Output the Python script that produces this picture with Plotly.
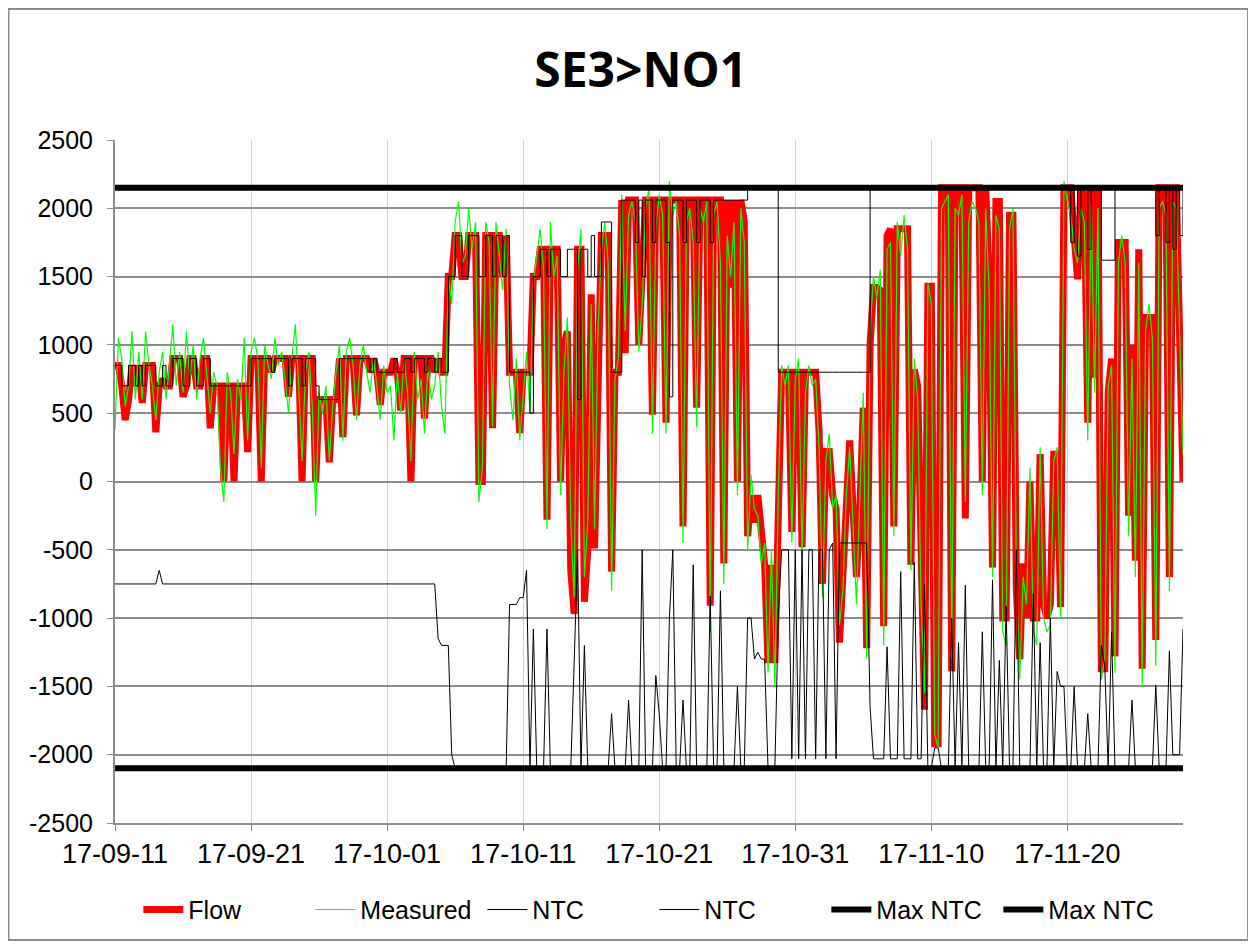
import pandas as pd
import plotly.graph_objects as go

# 6-hourly samples from 2017-09-11 00:00 (one line per day: 00, 06, 12, 18 h)
flow = [
    850, 850, 700, 450,  600, 850, 700, 850,  575, 850, 850, 850,  360, 700, 750, 700,
    700, 900, 900, 900,  620, 700, 900, 900,  700, 700, 900, 900,  390, 700, 700, 700,
    0, 700, 700, 0,  700, 700, 700, 215,  900, 900, 900, 0,  900, 900, 800, 900,
    900, 900, 900, 620,  900, 900, 900, 0,  900, 900, 900, 0,  600, 600, 600, 140,
    600, 600, 900, 325,  900, 900, 900, 485,  900, 900, 900, 800,  900, 800, 560, 800,
    800, 800, 900, 800,  520, 900, 900, 0,  900, 900, 900, 460,  900, 900, 800, 900,
    800, 800, 1500, 1500,  1800, 1800, 1500, 1500,  1800, 1800, 1800, 0,  0, 1800, 1800, 390,
    1800, 1800, 1500, 1800,  800, 800, 800, 355,  800, 800, 800, 1500,  1500, 1700, 1700, -280,
    1700, 1700, 1700, 0,  1000, 1100, -650, -970,  1700, 1700, -880, -500,  1370, -490, 1000, 1800,
    1800, 1800, -660, 800,  800, 2060, 940, 2060,  2060, 2060, 1000, 1500,  2060, 2060, 490, 2060,
    2060, 2060, 430, 2060,  2060, 2060, 2060, -330,  2060, 2060, 2060, 540,  2060, 2060, 2060, -910,
    2060, 2060, 2060, -600,  2060, 1420, 2060, 0,  2060, 1910, -400, -100,  -300, -100, -400, -610,
    -1330, -610, -1330, 0,  800, 800, 800, -370,  800, 800, -480, 800,  800, 800, 800, 370,
    -750, 220, 220, -100,  -200, -1180, -600, -200,  300, -200, -700, -200,  540, -1220, 1000, 1420,
    1420, 1400, -1060, 1800,  1850, -330, 1850, 1850,  1850, 1850, -610, 820,  700, -760, -1670, 1430,
    1430, -1920, -1920, 2150,  2150, 2150, -1390, 2150,  2150, 2150, -270, 2150,  2150, 2150, 2150, 0,
    2150, 1500, -630, 2050,  2050, -1000, -1000, 1950,  1950, -790, -1300, -600,  -1000, 0, -1000, -1000,
    200, -900, -1000, -900,  200, 200, -920, 2150,  2150, 2150, 1800, 1480,  2150, 2100, 430, 2150,
    760, 2150, -1370, -1370,  650, 900, -1280, 1750,  1750, 1750, -250, 1000,  -580, 1700, -1370, 1200,
    1200, 1200, -1160, 2150,  2150, 2150, -700, 2150,  2150, 1000, 0,
]

measured = [
    380, 1050, 900, 550,  700, 1100, 600, 950,  600, 1100, 850, 700,  450, 800, 950, 600,
    850, 1150, 700, 950,  650, 1100, 750, 1000,  600, 900, 1050, 800,  500, 800, 700, 100,
    -150, 800, 650, 200,  750, 600, 1050, 300,  950, 1050, 900, 100,  1000, 850, 750, 1050,
    850, 950, 750, 500,  900, 1150, 700, 150,  800, 950, 550, -250,  650, 500, 700, 150,
    550, 800, 1000, 300,  950, 1050, 850, 450,  850, 1000, 800, 650,  900, 700, 450, 850,
    650, 700, 300, 800,  500, 900, 650, 150,  950, 600, 750, 350,  850, 600, 700, 950,
    550, 350, 1500, 1300,  1900, 2050, 1600, 1650,  2000, 1700, 1900, -150,  100, 1900, 1750, 400,
    1900, 1650, 1400, 1850,  700, 450, 900, 300,  600, 950, 500, 1450,  1650, 1850, 1550, -350,
    1900, 1500, 1650, -100,  800, 1200, -300, -850,  1550, 1850, -700, -300,  1300, -350, 1100, 1700,
    1900, 1600, -800, 750,  900, 2100, 1100, 1950,  2050, 1900, 950, 1300,  2000, 2150, 350, 1850,
    2100, 1950, 350, 2200,  1950, 2050, 1800, -450,  1900, 2000, 1750, 400,  2000, 1900, 2050, -1100,
    1950, 2050, 1600, -750,  1800, 1500, 1900, -100,  2000, 1750, -500, 50,  -200, -250, -600, -450,
    -1400, -500, -1500, -100,  850, 700, 850, -450,  750, 900, -550, 650,  850, 700, 750, 250,
    -850, 150, 350, -200,  -100, -1050, -800, -100,  250, -300, -900, -100,  650, -1300, 1100, 1500,
    1350, 1550, -1200, 1700,  1750, -400, 1900, 1650,  1950, 1700, -650, 900,  600, -900, -1550, 1450,
    1300, -1850, -1950, 2000,  2050, 2100, -1300, 2000,  1950, 2100, -150, 1900,  2050, 2000, 1900, -100,
    2000, 1400, -700, 1950,  1850, -1100, -1200, 1850,  2000, -650, -1450, -700,  -900, 100, -1100, -1200,
    250, -1000, -1100, -1050,  150, 250, -1000, 2200,  2050, 1950, 1700, 1600,  2000, 1900, 300, 2050,
    650, 2000, -1450, -1300,  700, 850, -1400, 1600,  1800, 1600, -400, 900,  -700, 1600, -1500, 1100,
    1300, 1050, -1350, 2000,  2050, 1950, -800, 2050,  2000, 1100, 200,
]

ntc_import = [
    850, 850, 700, 700,  850, 850, 700, 850,  700, 850, 850, 850,  700, 700, 850, 700,
    700, 900, 900, 900,  700, 700, 900, 900,  700, 700, 900, 900,  700, 700, 700, 700,
    700, 700, 700, 700,  700, 700, 700, 700,  900, 900, 900, 900,  900, 900, 800, 900,
    900, 900, 900, 700,  900, 900, 900, 700,  900, 900, 900, 700,  600, 600, 600, 600,
    600, 600, 900, 900,  900, 900, 900, 900,  900, 900, 900, 800,  900, 800, 800, 800,
    800, 800, 900, 800,  800, 900, 900, 800,  900, 900, 900, 800,  900, 900, 800, 900,
    800, 800, 1500, 1500,  1800, 1800, 1500, 1500,  1800, 1800, 1800, 1500,  1500, 1800, 1800, 1500,
    1800, 1800, 1500, 1800,  800, 800, 800, 800,  800, 800, 500, 1500,  1500, 1700, 1700, 1500,
    1700, 1700, 1700, 1500,  1500, 1700, 1700, 1700,  600, 1700, 1700, 1500,  1800, 1500, 1500, 1900,
    1900, 1900, 800, 800,  800, 2060, 2060, 2060,  2060, 1750, 2060, 1500,  2060, 2060, 1750, 2060,
    2060, 2060, 1750, 620,  2060, 2060, 2060, 1750,  2060, 2060, 2060, 1750,  2060, 2060, 2060, 1750,
    2060, 2060, 2060, 2060,  2060, 2060, 2060, 2060,  2060, 2060, 2150, 2150,  2150, 2150, 2150, 2150,
    2150, 2150, 2150, 800,  800, 800, 800, 800,  800, 800, 800, 800,  800, 800, 800, 800,
    800, 800, 800, 800,  800, 800, 800, 800,  800, 800, 800, 800,  800, 800, 2150, 2150,
    2150, 2150, 2150, 2150,  2150, 2150, 2150, 2150,  2150, 2150, 2150, 2150,  2150, 2150, 2150, 2150,
    2150, 2150, 2150, 2150,  2150, 2150, 2150, 2150,  2150, 2150, 2150, 2150,  2150, 2150, 2150, 2150,
    2150, 2150, 2150, 2150,  2150, 2150, 2150, 2150,  2150, 2150, 2150, 2150,  2150, 2150, 2150, 2150,
    2150, 2150, 2150, 2150,  2150, 2150, 2150, 2150,  2150, 1750, 2150, 1650,  2150, 2150, 1700, 2150,
    2150, 2150, 1620, 1620,  1620, 1620, 2150, 2150,  2150, 2150, 2150, 2150,  2150, 2150, 2150, 2150,
    2150, 2150, 1800, 2150,  2150, 1750, 2150, 1700,  2150, 1800, 2150,
]

ntc_export = [
    -750, -750, -750, -750,  -750, -750, -750, -750,  -750, -750, -750, -750,  -750, -650, -750, -750,
    -750, -750, -750, -750,  -750, -750, -750, -750,  -750, -750, -750, -750,  -750, -750, -750, -750,
    -750, -750, -750, -750,  -750, -750, -750, -750,  -750, -750, -750, -750,  -750, -750, -750, -750,
    -750, -750, -750, -750,  -750, -750, -750, -750,  -750, -750, -750, -750,  -750, -750, -750, -750,
    -750, -750, -750, -750,  -750, -750, -750, -750,  -750, -750, -750, -750,  -750, -750, -750, -750,
    -750, -750, -750, -750,  -750, -750, -750, -750,  -750, -750, -750, -750,  -750, -750, -750, -1150,
    -1200, -1200, -1200, -2000,  -2100, -2100, -2100, -2100,  -2100, -2100, -2100, -2100,  -2100, -2100, -2100, -2100,
    -2100, -2100, -2100, -2100,  -900, -900, -900, -850,  -850, -650, -2100, -1080,  -2100, -2100, -2100, -1080,
    -2100, -2100, -2100, -2100,  -2100, -2100, -2100, -1330,  -500, -2100, -1200, -2100,  -2100, -2100, -2100, -2100,
    -2100, -2100, -1700, -2100,  -2100, -2100, -2100, -1600,  -2100, -2100, -2100, -500,  -2100, -2100, -2100, -1420,
    -1700, -2100, -2100, -1000,  -500, -2100, -2100, -1600,  -2100, -2100, -610, -2100,  -2100, -2100, -2100, -840,
    -2100, -2100, -800, -2100,  -2100, -2100, -2100, -1500,  -2100, -2100, -1000, -1000,  -1300, -1250, -1300, -1300,
    -2100, -2100, -2100, -1000,  -500, -500, -500, -2030,  -500, -2030, -500, -2030,  -500, -500, -2030, -500,
    -500, -2030, -500, -450,  -2030, -450, -450, -450,  -450, -450, -450, -450,  -450, -450, -1650, -2030,
    -2030, -2030, -2030, -1210,  -2030, -2030, -2030, -660,  -2030, -2030, -2030, -590,  -2030, -2030, -750, -2100,
    -2100, -1950, -1950, -2100,  -2100, -2100, -1000, -2100,  -1180, -2100, -760, -2100,  -2100, -2100, -2100, -1100,
    -2100, -2100, -720, -2100,  -1310, -2100, -910, -2100,  -2100, -500, -2100, -2100,  -2100, -2100, -820, -2100,
    -1180, -2100, -2100, -1000,  -2100, -1390, -1500, -1500,  -2100, -2100, -1500, -2100,  -2100, -2100, -1700, -2100,
    -2100, -2100, -1200, -1350,  -2100, -1100, -2100, -2100,  -2100, -2100, -2100, -1600,  -2100, -2100, -2100, -2100,
    -2100, -2100, -1490, -2100,  -2100, -2100, -1240, -2000,  -2000, -2000, -1080,
]

max_ntc_import = [2150, 2150]
max_ntc_export = [-2100, -2100]

y_tick_vals = [2500, 2000, 1500, 1000, 500, 0, -500, -1000, -1500, -2000, -2500]
y_tick_text = ["2500", "2000", "1500", "1000", "500", "0", "-500", "-1000", "-1500", "-2000", "-2500"]

times = pd.date_range("2017-09-11", periods=len(flow), freq="6h")
ends = [times[0], times[-1]]
tick_vals = pd.date_range("2017-09-11", "2017-11-20", freq="10D")

font = "Liberation Sans, Arial, sans-serif"

fig = go.Figure()
fig.add_trace(go.Scatter(x=times, y=flow, name="Flow", mode="lines",
                         line=dict(color="#ff0000", width=7)))
fig.add_trace(go.Scatter(x=times, y=measured, name="Measured", mode="lines",
                         line=dict(color="#00ff00", width=1.2)))
fig.add_trace(go.Scatter(x=times, y=ntc_import, name="NTC", mode="lines",
                         line=dict(color="#000000", width=1, shape="hv")))
fig.add_trace(go.Scatter(x=times, y=ntc_export, name="NTC", mode="lines",
                         line=dict(color="#000000", width=1)))
fig.add_trace(go.Scatter(x=ends, y=max_ntc_import, name="Max NTC", mode="lines",
                         line=dict(color="#000000", width=6)))
fig.add_trace(go.Scatter(x=ends, y=max_ntc_export, name="Max NTC", mode="lines",
                         line=dict(color="#000000", width=6)))

# page body has an 8px margin, so the figure is 8px smaller than the window
fig.update_layout(
    width=1248, height=940,
    margin=dict(l=107, r=73, t=132, b=125),
    paper_bgcolor="white", plot_bgcolor="white",
    font=dict(family=font, size=25, color="black"),
    title=dict(text="<b>SE3>NO1</b>", x=0.507, xanchor="center", y=0.934, yanchor="middle",
               font=dict(family="Open Sans, Liberation Sans, sans-serif", size=48)),
    showlegend=True,
    legend=dict(orientation="h", x=0.505, xanchor="center", y=-0.127, yanchor="middle",
                font=dict(size=25), entrywidth=117, itemwidth=40, tracegroupgap=0),
    shapes=[dict(type="rect", xref="paper", yref="paper",
                 x0=-0.0997, x1=1.0609, y0=-0.1713, y1=1.1918,
                 line=dict(color="#8c8c8c", width=2), fillcolor="rgba(0,0,0,0)", layer="below")],
)

fig.update_xaxes(
    type="date", range=[times[0], times[-1]],
    tickvals=tick_vals, tickformat="%y-%m-%d", tickfont=dict(size=27),
    showgrid=True, gridcolor="#d0d0d0", gridwidth=1,
    showline=True, linecolor="#8c8c8c", linewidth=2,
    ticks="outside", ticklen=6, tickcolor="#8c8c8c",
    zeroline=False,
)
fig.update_yaxes(
    range=[-2500, 2500], tickvals=y_tick_vals, ticktext=y_tick_text,
    ticklabelstandoff=9,
    showgrid=True, gridcolor="#8c8c8c", gridwidth=2,
    showline=True, linecolor="#8c8c8c", linewidth=2,
    ticks="outside", ticklen=6, tickcolor="#8c8c8c",
    zeroline=False,
)

fig.write_html("out.html")
